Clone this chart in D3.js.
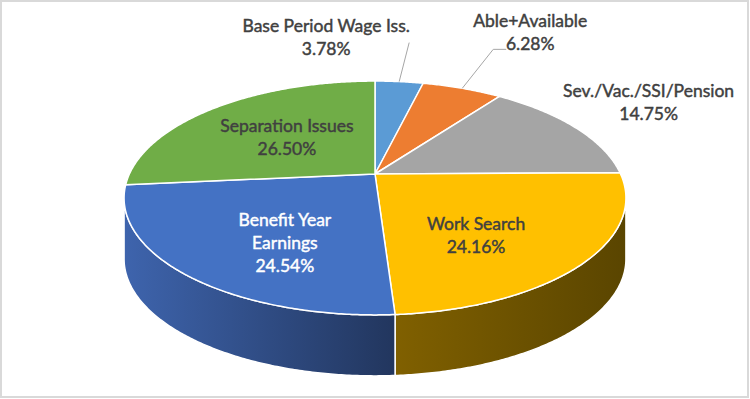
<!DOCTYPE html>
<html>
<head>
<meta charset="utf-8">
<script src="https://cdn.jsdelivr.net/npm/d3@7"></script>
<style>
  html, body { margin: 0; padding: 0; background: #fff; }
  svg { display: block; }
  text { font-family: Lato, "Open Sans", "Liberation Sans", sans-serif; }
</style>
</head>
<body>
<svg id="chart" width="750" height="399"></svg>
<script>
// ---------------- data ----------------
const categories = ["Base Period Wage Iss.", "Able+Available", "Sev./Vac./SSI/Pension", "Work Search", "Benefit Year Earnings", "Separation Issues"];
const labelLines = [["Base Period Wage Iss."], ["Able+Available"], ["Sev./Vac./SSI/Pension"], ["Work Search"], ["Benefit Year", "Earnings"], ["Separation Issues"]];
const values = [3.78, 6.28, 14.75, 24.16, 24.54, 26.50];
const valueLabels = ["3.78%", "6.28%", "14.75%", "24.16%", "24.54%", "26.50%"];
const topColors = ["#5B9BD5", "#ED7D31", "#A5A5A5", "#FFC000", "#4472C4", "#70AD47"];
const sideColorsA = ["#4A7FB0", "#B85E22", "#7F7F7F", "#806000", "#3E64AD", "#56853A"];
const sideColorsB = ["#2E5272", "#7A3D14", "#555555", "#5A4500", "#22365E", "#3A5A27"];
const textColors = ["#404040", "#404040", "#404040", "#404040", "#FFFFFF", "#404040"];
// label placement: inside labels (radial fraction) / outside labels (offset from slice rim)
const labelInside = [false, false, false, true, true, true];
const labelOffsets = [[-73, -44], [68, -56], [74, -25], [0, 0], [0, 0], [0, 0]];
const leaderPoints = [[[10, -39]], [[31, -39], [44, -39]], null, null, null, null];

// ---------------- layout ----------------
const W = 750, H = 399;
const cx = 375, cy = 174;      // projected pie centre
const rx = 245.6, ry = 112;    // ellipse radii
const persp = 0.205;           // perspective factor
const depth = 61;              // thickness of the pie
const fontSize = 17.5, lineH = 23;

const svg = d3.select("#chart");
svg.append("rect").attr("x", 1).attr("y", 1).attr("width", W - 3).attr("height", H - 3)
  .attr("fill", "#fff").attr("stroke", "#D9D9D9").attr("stroke-width", 2);

// projection of a point on the unit disc (angle clockwise from 12 o'clock, radius r)
function proj(theta, r = 1, dz = 0) {
  const a = r * Math.sin(theta), b = -r * Math.cos(theta);
  const den = 1 - persp * b;
  return [cx + rx * a / den, cy + ry * b / den + dz];
}

const pie = d3.pie().sort(null).value(d => d)(values);
const line = d3.line();
const defs = svg.append("defs");

function arcPts(t0, t1, dz) {
  const n = Math.max(2, Math.ceil(Math.abs(t1 - t0) / (Math.PI / 360)));
  const sc = d3.scaleLinear().domain([0, n]).range([t0, t1]);
  return d3.range(n + 1).map(i => proj(sc(i), 1, dz));
}

// ---- sides (front visible part) ----
const thR = Math.acos(-persp), thL = 2 * Math.PI - thR;
const gSide = svg.append("g");
pie.forEach((s, i) => {
  const t0 = Math.max(s.startAngle, thR), t1 = Math.min(s.endAngle, thL);
  if (t1 <= t0) return;
  const gid = "side" + i;
  const gr = defs.append("linearGradient").attr("id", gid).attr("x1", 0).attr("x2", 1).attr("y1", 0).attr("y2", 0);
  gr.append("stop").attr("offset", 0).attr("stop-color", sideColorsA[i]);
  gr.append("stop").attr("offset", 1).attr("stop-color", sideColorsB[i]);
  const pts = arcPts(t0, t1, 0).concat(arcPts(t1, t0, depth));
  gSide.append("path").attr("d", line(pts) + "Z")
    .attr("fill", `url(#${gid})`).attr("stroke", "#fff").attr("stroke-width", 1.5)
    .attr("stroke-linejoin", "round");
});

// ---- top faces ----
const gTop = svg.append("g");
pie.forEach((s, i) => {
  const pts = [[cx, cy]].concat(arcPts(s.startAngle, s.endAngle, 0));
  gTop.append("path").attr("d", line(pts) + "Z")
    .attr("fill", topColors[i]).attr("stroke", "#fff").attr("stroke-width", 1.5)
    .attr("stroke-linejoin", "round");
});

// ---- labels ----
const gLab = svg.append("g");
pie.forEach((s, i) => {
  const mid = (s.startAngle + s.endAngle) / 2;
  const lines = labelLines[i].concat([valueLabels[i]]);
  let lx, ly;
  if (labelInside[i]) {
    const p = proj(mid, 0.52);
    const b = -Math.cos(mid);
    lx = p[0]; ly = p[1] + 0.45 * depth * Math.max(0, b);
  } else {
    const rim = proj(mid, 1);
    lx = rim[0] + labelOffsets[i][0]; ly = rim[1] + labelOffsets[i][1];
    if (leaderPoints[i]) {
      const lp = [rim].concat(leaderPoints[i].map(d => [rim[0] + d[0], rim[1] + d[1]]));
      gLab.append("path").attr("d", line(lp)).attr("fill", "none")
        .attr("stroke", "#A6A6A6").attr("stroke-width", 1);
    }
  }
  const t = gLab.append("text").attr("text-anchor", "middle")
    .attr("font-size", fontSize).attr("fill", textColors[i])
    .attr("stroke", textColors[i]).attr("stroke-width", 0.45);
  const y0 = ly - (lines.length - 1) * lineH / 2;
  lines.forEach((ln, k) => {
    t.append("tspan").attr("x", lx).attr("y", y0 + k * lineH).attr("dy", "0.35em").text(ln);
  });
});
</script>
</body>
</html>
